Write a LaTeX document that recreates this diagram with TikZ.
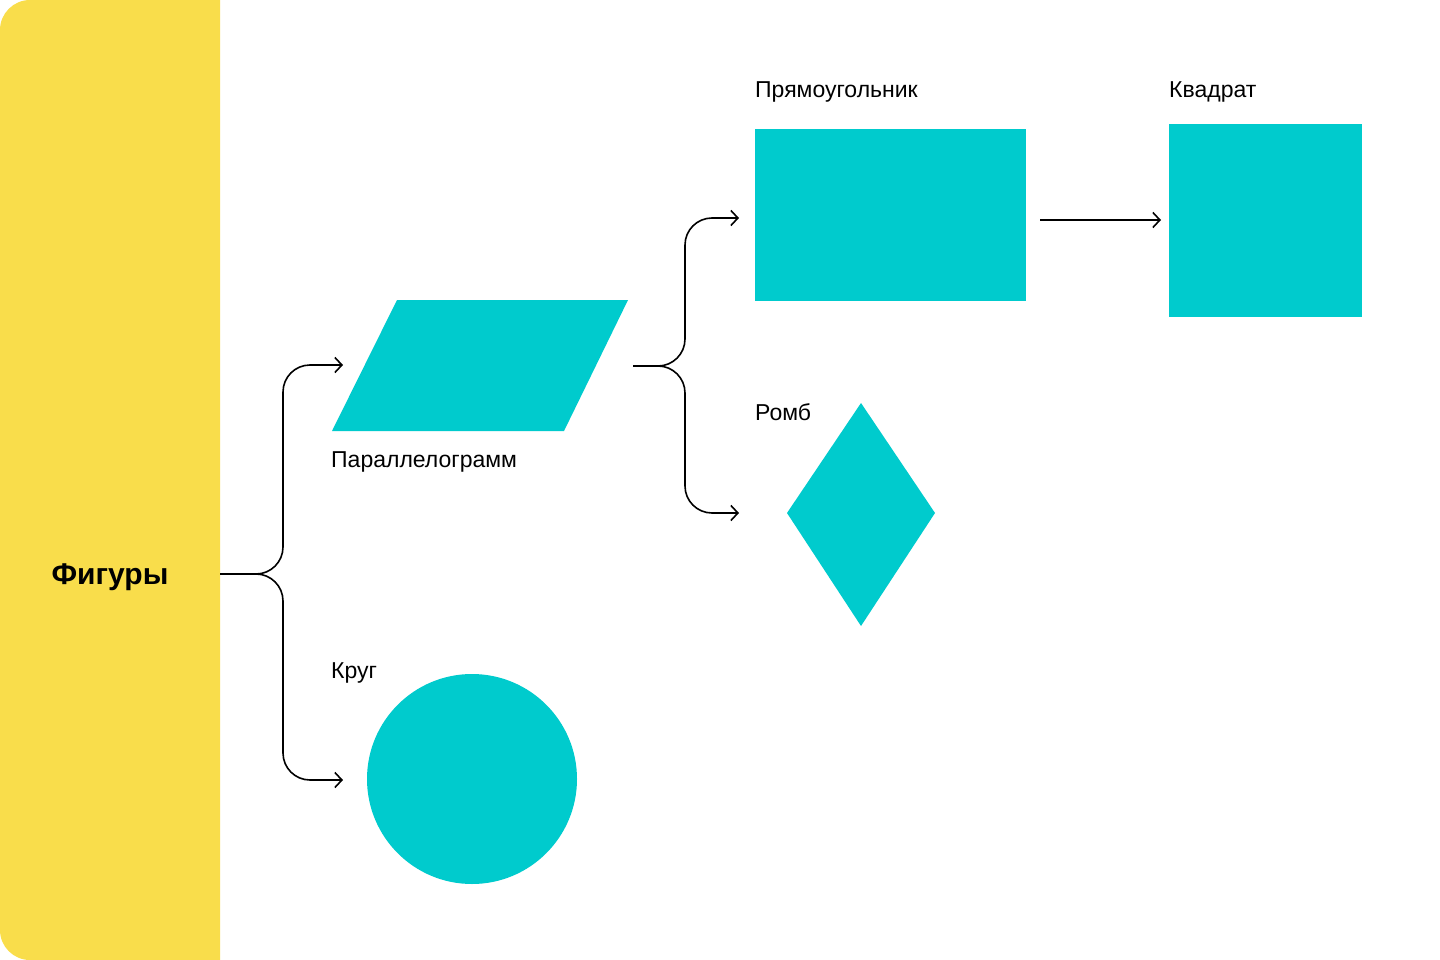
\documentclass[tikz,border=0pt]{standalone}
\usepackage{fontspec}
\setmainfont{Liberation Sans}
\usetikzlibrary{arrows.meta}
\definecolor{panel}{HTML}{F9DD4B}
\definecolor{shape}{HTML}{00CBCD}
\tikzset{
  conn/.style={draw=black, line width=1.6pt, rounded corners=27pt},
  tip/.style={-{Straight Barb[length=7pt,width=15pt,line width=1.6pt]}},
  lbl/.style={anchor=base west, font=\fontsize{23}{27}\selectfont, inner sep=0pt},
  fillshape/.style={fill=shape, draw=none}
}
\begin{document}
\begin{tikzpicture}[x=1pt,y=-1pt]
\useasboundingbox (0,0) rectangle (1440,960);
\fill[white] (0,0) rectangle (1440,960);
% panel
\fill[panel] (220,0) [rounded corners=30pt] -- (0,0) -- (0,960) [sharp corners] -- (220,960) -- cycle;
\node[font=\bfseries\fontsize{30}{36}\selectfont, inner sep=0pt, anchor=base] (fig) at (110,584) {Фигуры};

% shapes
\fill[fillshape] (397,300) -- (628,300) -- (564,431) -- (332,431) -- cycle;
\node[fillshape, minimum width=271pt, minimum height=172pt, inner sep=0pt] (rect) at (890.5,215) {};
\node[fillshape, minimum width=193pt, minimum height=193pt, inner sep=0pt] (sq) at (1265.5,220.5) {};
\fill[fillshape] (861,403) -- (935,513) -- (861,626) -- (787,513) -- cycle;
\node[fillshape, circle, minimum size=210pt, inner sep=0pt] (circ) at (472,779) {};

% labels
\node[lbl] (lrect) at (755,98) {Прямоугольник};
\node[lbl] (lsq) at (1169,98) {Квадрат};
\node[lbl] (lromb) at (755,420) {Ромб};
\node[lbl] (lpar) at (331,467) {Параллелограмм};
\node[lbl] (lcirc) at (331,678) {Круг};

% connector coordinates
\coordinate (s1) at (220,574);
\coordinate (j1) at (283,574);
\coordinate (t1a) at (343,365);
\coordinate (t1b) at (343,780);
\coordinate (s2) at (633,366);
\coordinate (j2) at (685,366);
\coordinate (t2a) at (739,218);
\coordinate (t2b) at (739,513);
\coordinate (s3) at (1040,220);
\coordinate (t3) at (1161,220);

\draw[conn,tip] (s1) -- (j1) |- (t1a);
\draw[conn,tip] (s1) -- (j1) |- (t1b);
\draw[conn,tip] (s2) -- (j2) |- (t2a);
\draw[conn,tip] (s2) -- (j2) |- (t2b);
\draw[conn,tip] (s3) -- (t3);
\end{tikzpicture}
\end{document}
